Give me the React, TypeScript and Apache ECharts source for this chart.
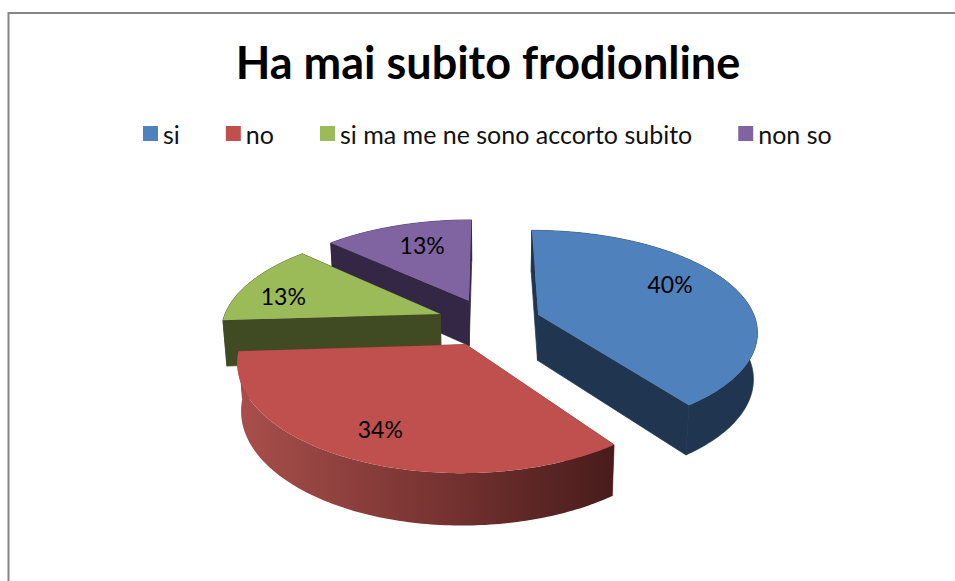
import React, { useEffect, useRef } from "react";
import * as echarts from "echarts";

const titleText = "Ha mai subito frodionline";
const sliceNames = ["si", "no", "si ma me ne sono accorto subito", "non so"];
const sliceValues = [40, 34, 13, 13];
const topColors = ["#4F81BD", "#C0504D", "#9BBB59", "#8064A2"];
const wallColors = ["#1F3550", "#7A3533", "#404B24", "#342745"];
// painting order: back slices first, the red one last
const paintOrder = [3, 2, 0, 1];
// where each percentage sits inside its slice: share of the slice's sweep, share of the radius
const labelSweep = [0.44, 0.5, 0.38, 0.55];
const labelRadius = [0.73, 0.77, 0.78, 0.7];

// Ground-plane projection of the tilted pie
const CX = 489;
const CY = 322;
const RX = 218;
const RY = 100;
const PERSPECTIVE_X = 0.15;
const PERSPECTIVE_Y = 0.16;
const EXPLODE = 0.24;
const DEPTH = 46;
const BASE_SHRINK = 0.985;

type Pt = [number, number];

function projectTop(u: number, v: number): Pt {
  return [CX + (RX * u) / (1 + PERSPECTIVE_X * v), CY - (RY * v) / (1 + PERSPECTIVE_Y * v)];
}
function projectBase(u: number, v: number): Pt {
  const [x, y] = projectTop(u, v);
  return [CX + (x - CX) * BASE_SHRINK, y + DEPTH / (1 + 0.1 * v)];
}
const rad = (deg: number) => (deg * Math.PI) / 180;

function renderSlice(params: any, api: any) {
  const index = paintOrder[params.seriesIndex];
  const total = sliceValues.reduce((a, b) => a + b, 0);
  const before = sliceValues.slice(0, index).reduce((a, b) => a + b, 0);
  const value = api.value(0) as number;
  const start = (before / total) * 360;
  const sweep = (value / total) * 360;
  const mid = start + sweep / 2;
  const ox = EXPLODE * Math.sin(rad(mid));
  const oy = EXPLODE * Math.cos(rad(mid));

  const rim: [number, number][] = [];
  const steps = Math.ceil(sweep);
  for (let i = 0; i <= steps; i++) {
    const a = rad(start + (sweep * i) / steps);
    rim.push([ox + Math.sin(a), oy + Math.cos(a)]);
  }
  const topRim = rim.map(([u, v]) => projectTop(u, v));
  const baseRim = rim.map(([u, v]) => projectBase(u, v));
  const apexTop = projectTop(ox, oy);
  const apexBase = projectBase(ox, oy);
  const wall = wallColors[index];
  const rimFill: any =
    index === 1
      ? new echarts.graphic.LinearGradient(0, 0, 1, 0, [
          { offset: 0, color: "#A94F4B" },
          { offset: 0.5, color: "#7A3533" },
          { offset: 1, color: "#481C1B" },
        ])
      : wall;

  // walls share their own colour as an outline so neighbouring faces leave no seam
  const face = (points: Pt[], fill: any, outline: string | null) => ({
    type: "polygon",
    shape: { points },
    style: { fill, stroke: outline, lineWidth: outline ? 0.7 : 0 },
  });

  const la = rad(start + sweep * labelSweep[index]);
  const lr = labelRadius[index];
  const [lx, ly] = projectTop(ox + lr * Math.sin(la), oy + lr * Math.cos(la));

  return {
    type: "group",
    children: [
      face([apexTop, topRim[0], baseRim[0], apexBase], wall, wall),
      face([apexTop, topRim[steps], baseRim[steps], apexBase], wall, wall),
      face([...topRim, ...[...baseRim].reverse()], rimFill, index === 1 ? null : wall),
      face([apexTop, ...topRim], topColors[index], null),
      {
        type: "text",
        style: {
          x: lx,
          y: ly,
          text: `${value}%`,
          fill: "#000000",
          font: "23px Lato",
          align: "center",
          verticalAlign: "middle",
        },
      },
    ],
  };
}

export default function App() {
  const ref = useRef<HTMLDivElement>(null);
  useEffect(() => {
    document.body.style.margin = "0";
    const chart = echarts.init(ref.current!, null, { renderer: "svg" });
    chart.setOption({
      animation: false,
      backgroundColor: "#FFFFFF",
      title: {
        text: titleText,
        left: 483,
        top: 34,
        textAlign: "center",
        textStyle: { fontFamily: "Lato", fontWeight: "bold", fontSize: 45, color: "#000000" },
      },
      legend: {
        data: sliceNames,
        left: 138,
        top: 116,
        icon: "rect",
        itemWidth: 15,
        itemHeight: 15,
        itemGap: 46,
        textStyle: { fontFamily: "Lato", fontSize: 25, color: "#111111" },
      },
      graphic: [
        {
          type: "polyline",
          shape: { points: [[8.5, 581], [8.5, 13], [955, 13]] },
          style: { stroke: "#868686", lineWidth: 2, fill: null },
          silent: true,
        },
      ],
      series: paintOrder.map((i) => ({
        type: "custom",
        name: sliceNames[i],
        coordinateSystem: "none",
        itemStyle: { color: topColors[i] },
        data: [sliceValues[i]],
        renderItem: renderSlice,
      })),
    });
    return () => chart.dispose();
  }, []);
  return <div ref={ref} style={{ width: 955, height: 581 }} />;
}
